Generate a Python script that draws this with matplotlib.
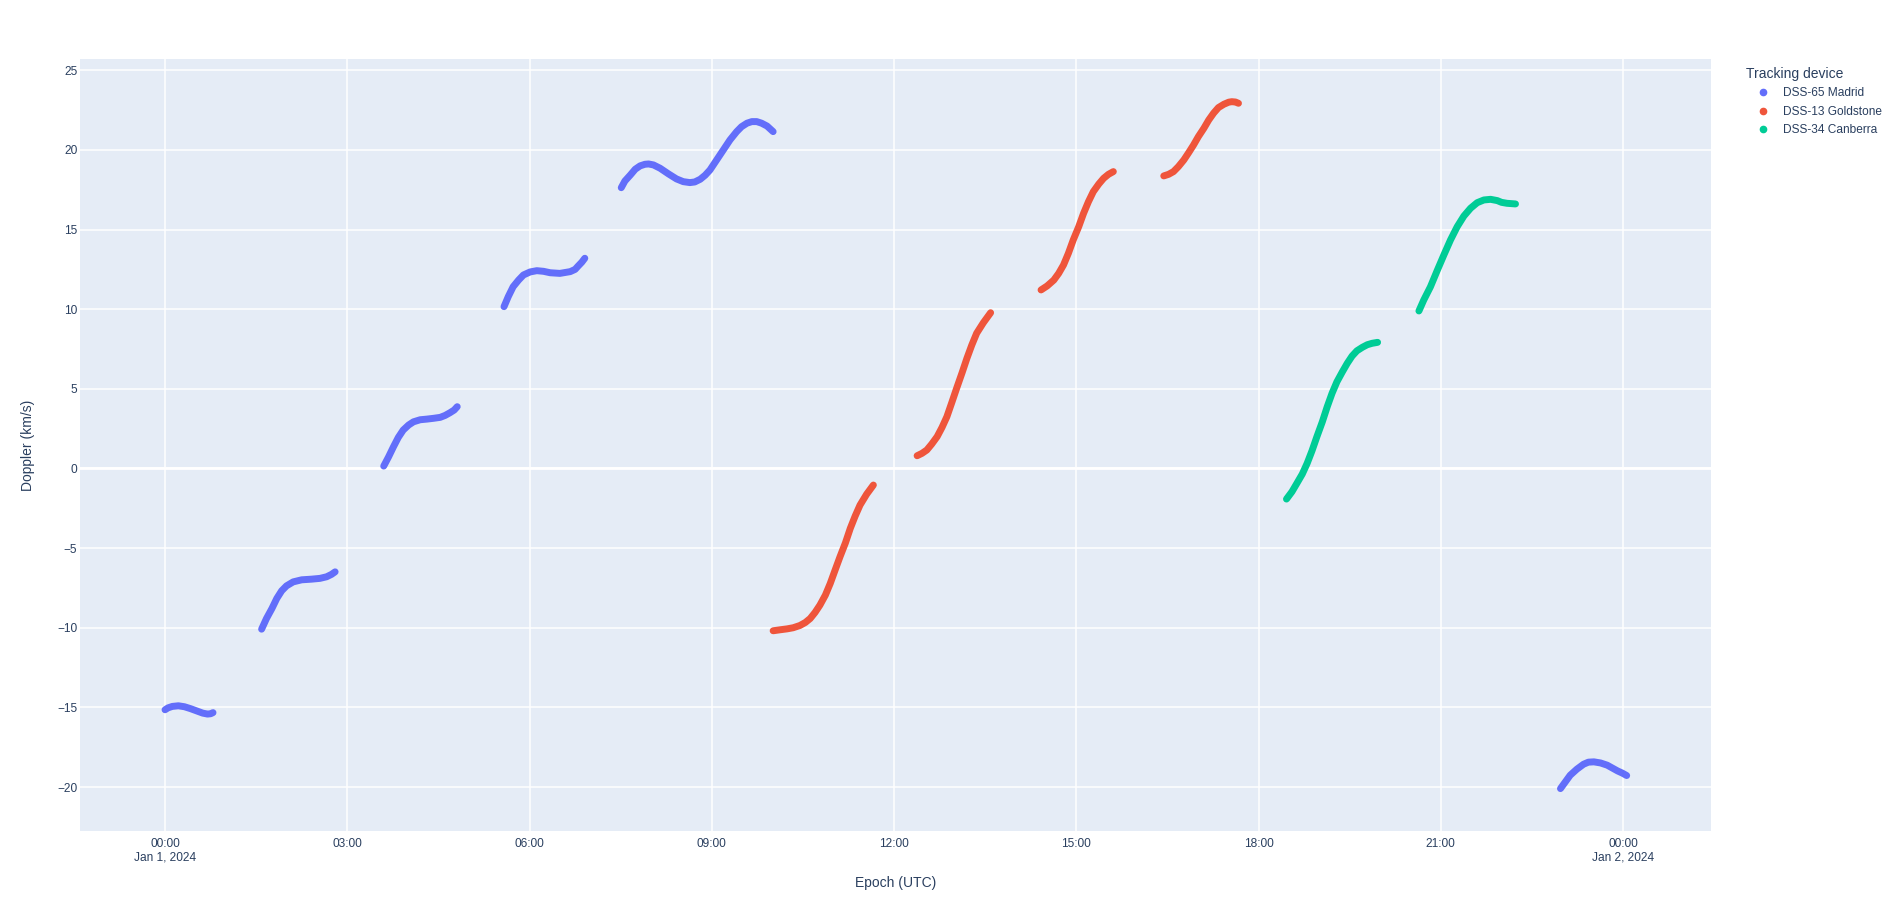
import matplotlib
matplotlib.use("Agg")
import matplotlib.pyplot as plt
from matplotlib.lines import Line2D

plt.rcParams['font.family'] = ['Liberation Sans', 'DejaVu Sans']

# hours since 2024-01-01 00:00 UTC, doppler in km/s
madrid_passes = [
    ([0.00, 0.05, 0.12, 0.22, 0.32, 0.42, 0.52, 0.62, 0.70, 0.75, 0.79],
     [-15.15, -15.03, -14.94, -14.90, -14.96, -15.08, -15.22, -15.36, -15.42, -15.40, -15.33]),
    ([1.59, 1.67, 1.76, 1.84, 1.92, 2.00, 2.11, 2.25, 2.41, 2.55, 2.66, 2.74, 2.80],
     [-10.09, -9.42, -8.79, -8.16, -7.68, -7.37, -7.12, -6.99, -6.95, -6.90, -6.80, -6.65, -6.49]),
    ([3.60, 3.68, 3.76, 3.84, 3.92, 4.01, 4.09, 4.20, 4.31, 4.42, 4.53, 4.61, 4.69, 4.76, 4.81],
     [0.15, 0.73, 1.36, 1.95, 2.41, 2.73, 2.93, 3.06, 3.10, 3.15, 3.21, 3.33, 3.50, 3.67, 3.88]),
    ([5.58, 5.65, 5.73, 5.82, 5.90, 6.01, 6.12, 6.23, 6.34, 6.50, 6.67, 6.75, 6.80, 6.86, 6.91],
     [10.16, 10.79, 11.41, 11.83, 12.15, 12.34, 12.42, 12.38, 12.29, 12.25, 12.36, 12.50, 12.71, 12.95, 13.20]),
    ([7.51, 7.57, 7.66, 7.74, 7.82, 7.90, 7.96, 8.04, 8.15, 8.29, 8.42, 8.53, 8.64, 8.72, 8.81,
      8.89, 8.97, 9.08, 9.19, 9.30, 9.41, 9.49, 9.58, 9.66, 9.74, 9.82, 9.91, 10.01],
     [17.63, 18.05, 18.43, 18.79, 19.00, 19.10, 19.12, 19.06, 18.85, 18.49, 18.18, 18.01, 17.95, 17.99, 18.16,
      18.41, 18.74, 19.37, 20.00, 20.63, 21.15, 21.46, 21.68, 21.78, 21.78, 21.68, 21.50, 21.15]),
    ([22.97, 23.05, 23.13, 23.24, 23.35, 23.43, 23.52, 23.63, 23.74, 23.82, 23.91, 23.99, 24.06],
     [-20.10, -19.68, -19.26, -18.88, -18.57, -18.44, -18.42, -18.49, -18.63, -18.80, -18.99, -19.13, -19.28]),
]

goldstone_passes = [
    ([10.01, 10.12, 10.24, 10.34, 10.45, 10.54, 10.62, 10.70, 10.78, 10.87, 10.95, 11.03, 11.11,
      11.20, 11.28, 11.36, 11.44, 11.55, 11.66],
     [-10.19, -10.13, -10.07, -10.00, -9.86, -9.67, -9.42, -9.04, -8.58, -7.95, -7.22, -6.38, -5.55,
      -4.67, -3.76, -2.99, -2.30, -1.61, -1.04]),
    ([12.38, 12.46, 12.54, 12.62, 12.71, 12.79, 12.87, 12.95, 13.03, 13.12, 13.20, 13.28, 13.36, 13.47, 13.59],
     [0.80, 0.95, 1.16, 1.53, 2.00, 2.58, 3.25, 4.13, 5.03, 6.01, 6.92, 7.75, 8.49, 9.15, 9.78]),
    ([14.42, 14.52, 14.63, 14.71, 14.79, 14.87, 14.95, 15.04, 15.12, 15.20, 15.28, 15.37, 15.45, 15.53, 15.61],
     [11.21, 11.46, 11.83, 12.25, 12.78, 13.51, 14.35, 15.18, 16.02, 16.75, 17.38, 17.86, 18.22, 18.47, 18.64]),
    ([16.44, 16.52, 16.60, 16.68, 16.77, 16.85, 16.93, 17.01, 17.10, 17.18, 17.26, 17.34, 17.43, 17.51,
      17.56, 17.62, 17.67],
     [18.37, 18.47, 18.64, 18.95, 19.37, 19.83, 20.31, 20.84, 21.36, 21.88, 22.31, 22.66, 22.87, 23.00,
      23.03, 23.01, 22.93]),
]

canberra_passes = [
    ([18.46, 18.55, 18.63, 18.72, 18.80, 18.88, 18.96, 19.05, 19.13, 19.21, 19.29, 19.38, 19.46,
      19.54, 19.62, 19.71, 19.79, 19.87, 19.96],
     [-1.92, -1.46, -0.94, -0.35, 0.32, 1.11, 1.99, 2.93, 3.87, 4.72, 5.44, 6.07, 6.60,
      7.06, 7.39, 7.61, 7.77, 7.86, 7.92]),
    ([20.64, 20.72, 20.83, 20.94, 21.05, 21.16, 21.27, 21.38, 21.49, 21.60, 21.71, 21.82, 21.93,
      22.00, 22.09, 22.23],
     [9.89, 10.58, 11.41, 12.42, 13.40, 14.35, 15.18, 15.85, 16.34, 16.69, 16.86, 16.90, 16.82,
      16.71, 16.65, 16.61]),
]

stations = ["DSS-65 Madrid", "DSS-13 Goldstone", "DSS-34 Canberra"]
colors = ["#636efa", "#EF553B", "#00cc96"]

tick_hours = [0, 3, 6, 9, 12, 15, 18, 21, 24]
tick_labels = ["00:00\nJan 1, 2024", "03:00", "06:00", "09:00", "12:00",
               "15:00", "18:00", "21:00", "00:00\nJan 2, 2024"]
y_ticks = [-20, -15, -10, -5, 0, 5, 10, 15, 20, 25]

text_col = "#2a3f5f"

fig = plt.figure(figsize=(19.04, 9.11), dpi=100)
ax = fig.add_axes([0.042, 0.0882, 0.8567, 0.8465])
ax.set_facecolor("#E5ECF6")

for passes, c in zip([madrid_passes, goldstone_passes, canberra_passes], colors):
    for xs, ys in passes:
        ax.plot(xs, ys, color=c, lw=5, solid_capstyle='round', solid_joinstyle='round', zorder=3)

ax.set_xlim(-1.40, 25.45)
ax.set_ylim(-22.74, 25.68)
ax.set_xticks(tick_hours)
ax.set_xticklabels(tick_labels)
ax.set_yticks(y_ticks)
ax.grid(True, color="white", lw=1.1, zorder=0)
ax.axhline(0, color="white", lw=2, zorder=1)
ax.set_axisbelow(True)
for s in ax.spines.values():
    s.set_visible(False)
ax.tick_params(length=0, labelsize=8.6, labelcolor=text_col, pad=5)
ax.tick_params(axis='y', pad=2)

fig.text(0.4703, 0.031, "Epoch (UTC)", ha="center", va="center", fontsize=10, color=text_col)
fig.text(0.0147, 0.511, "Doppler (km/s)", ha="center", va="center", rotation=90,
         fontsize=10, color=text_col)

handles = [Line2D([], [], ls='none', marker='o', ms=4.5, color=c) for c in colors]
leg = fig.legend(handles, stations, title="Tracking device", loc="upper left",
                 bbox_to_anchor=(0.9146, 0.932), frameon=False, fontsize=8.6,
                 title_fontsize=10, alignment="left", handlelength=2.8,
                 handletextpad=0.3, labelspacing=0.55, borderaxespad=0)
leg.get_title().set_color(text_col)
for t in leg.get_texts():
    t.set_color(text_col)

fig.savefig("out.png", dpi=100)
